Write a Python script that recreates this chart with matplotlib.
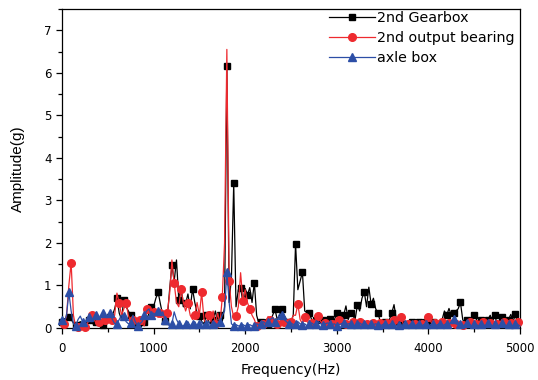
import numpy as np
import matplotlib
matplotlib.use("Agg")
import matplotlib.pyplot as plt
from matplotlib.ticker import MultipleLocator

plt.rcParams['font.family'] = ['DejaVu Sans']

# frequency grid (Hz)
freq = np.arange(0, 5001, 25)

gearbox = [
    0.15, 0.22, 0.18, 0.25, 0.2, 0.12, 0.08, 0.1, 0.15, 0.08, 0.05, 0.1, 0.2, 0.12, 0.08, 0.15, 0.1, 0.05, 0.08, 0.12,
    0.18, 0.25, 0.3, 0.45, 0.7, 0.35, 0.2, 0.67, 0.5, 0.4, 0.3, 0.15, 0.2, 0.12, 0.08, 0.1, 0.15, 0.2, 0.35, 0.5,
    0.5, 0.7, 0.84, 0.56, 0.3, 0.16, 0.25, 0.9, 1.48, 1.1, 1.6, 0.67, 0.95, 0.5, 0.58, 0.8, 0.45, 0.92, 0.6, 0.35,
    0.28, 0.15, 0.1, 0.3, 0.15, 0.1, 0.2, 0.4, 0.1, 0.3, 0.15, 0.5, 6.15, 0.6, 1.2, 3.4, 0.5, 0.9, 0.95, 0.6,
    0.93, 0.78, 0.95, 0.6, 1.07, 0.3, 0.1, 0.15, 0.05, 0.2, 0.1, 0.15, 0.3, 0.44, 0.2, 0.3, 0.44, 0.3, 0.2, 0.15,
    0.15, 0.3, 1.98, 0.9, 1.1, 1.31, 0.4, 0.36, 0.36, 0.2, 0.15, 0.2, 0.1, 0.25, 0.2, 0.15, 0.2, 0.22, 0.1, 0.2,
    0.35, 0.3, 0.25, 0.3, 0.52, 0.2, 0.35, 0.3, 0.2, 0.54, 0.4, 0.7, 0.85, 0.5, 0.96, 0.56, 0.7, 0.45, 0.35, 0.15,
    0.1, 0.15, 0.1, 0.2, 0.35, 0.55, 0.2, 0.15, 0.1, 0.12, 0.1, 0.12, 0.15, 0.15, 0.12, 0.1, 0.15, 0.12, 0.1, 0.15,
    0.1, 0.12, 0.15, 0.1, 0.12, 0.1, 0.2, 0.4, 0.3, 0.46, 0.3, 0.35, 0.4, 0.45, 0.6, 0.2, 0.1, 0.2, 0.15, 0.2,
    0.31, 0.2, 0.1, 0.2, 0.15, 0.1, 0.2, 0.3, 0.15, 0.3, 0.1, 0.15, 0.27, 0.15, 0.1, 0.2, 0.32, 0.15, 0.32, 0.1,
    0.1,
]

bearing = [
    0.05, 0.1, 0.3, 1.0, 1.54, 0.3, 0.02, 0.02, 0.1, 0.05, 0.02, 0.1, 0.2, 0.31, 0.2, 0.1, 0.15, 0.1, 0.15, 0.19,
    0.25, 0.15, 0.2, 0.3, 0.82, 0.58, 0.3, 0.45, 0.58, 0.3, 0.15, 0.2, 0.1, 0.15, 0.2, 0.1, 0.05, 0.44, 0.4, 0.3,
    0.38, 0.3, 0.25, 0.35, 0.3, 0.15, 0.36, 0.8, 1.6, 1.05, 0.6, 0.5, 0.91, 0.6, 0.4, 0.58, 0.3, 0.2, 0.3, 0.6,
    0.3, 0.84, 0.2, 0.1, 0.3, 0.15, 0.4, 0.1, 0.35, 0.1, 0.72, 2.0, 6.55, 1.11, 0.5, 0.25, 0.29, 0.5, 1.3, 0.63,
    0.9, 0.6, 0.44, 0.3, 0.2, 0.05, 0.1, 0.05, 0.1, 0.15, 0.27, 0.2, 0.1, 0.15, 0.1, 0.15, 0.2, 0.15, 0.1, 0.2,
    0.15, 0.3, 0.3, 0.56, 0.2, 0.1, 0.25, 0.15, 0.1, 0.12, 0.1, 0.2, 0.28, 0.15, 0.1, 0.12, 0.1, 0.15, 0.1, 0.12,
    0.15, 0.19, 0.1, 0.05, 0.1, 0.12, 0.1, 0.15, 0.12, 0.08, 0.15, 0.1, 0.05, 0.1, 0.15, 0.1, 0.12, 0.08, 0.1, 0.12,
    0.1, 0.08, 0.12, 0.1, 0.15, 0.2, 0.15, 0.25, 0.25, 0.1, 0.08, 0.1, 0.12, 0.08, 0.1, 0.12, 0.08, 0.1, 0.12, 0.15,
    0.27, 0.15, 0.1, 0.12, 0.1, 0.08, 0.15, 0.1, 0.08, 0.12, 0.1, 0.08, 0.1, 0.12, 0.1, 0.08, 0.1, 0.12, 0.15, 0.1,
    0.08, 0.1, 0.12, 0.1, 0.15, 0.1, 0.08, 0.12, 0.1, 0.08, 0.1, 0.12, 0.1, 0.15, 0.1, 0.08, 0.12, 0.1, 0.08, 0.15,
    0.12,
]

axle = [
    0.2, 0.15, 0.3, 0.84, 0.4, 0.1, 0.05, 0.2, 0.28, 0.15, 0.1, 0.2, 0.25, 0.15, 0.2, 0.3, 0.2, 0.25, 0.35, 0.3,
    0.25, 0.35, 0.2, 0.1, 0.1, 0.2, 0.3, 0.28, 0.15, 0.1, 0.12, 0.3, 0.15, 0.05, 0.1, 0.15, 0.3, 0.4, 0.45, 0.3,
    0.35, 0.3, 0.4, 0.3, 0.38, 0.2, 0.1, 0.05, 0.1, 0.38, 0.2, 0.1, 0.05, 0.05, 0.1, 0.15, 0.05, 0.1, 0.15, 0.05,
    0.1, 0.15, 0.05, 0.1, 0.15, 0.05, 0.1, 0.12, 0.05, 0.15, 0.3, 0.4, 1.32, 0.6, 0.1, 0.05, 0.08, 0.05, 0.05, 0.08,
    0.05, 0.05, 0.08, 0.05, 0.05, 0.1, 0.08, 0.1, 0.15, 0.1, 0.15, 0.2, 0.25, 0.15, 0.2, 0.33, 0.3, 0.2, 0.15, 0.1,
    0.12, 0.08, 0.1, 0.15, 0.1, 0.08, 0.1, 0.05, 0.1, 0.12, 0.08, 0.1, 0.15, 0.1, 0.08, 0.1, 0.12, 0.1, 0.08, 0.1,
    0.05, 0.08, 0.1, 0.12, 0.08, 0.1, 0.1, 0.08, 0.05, 0.1, 0.12, 0.08, 0.1, 0.08, 0.05, 0.1, 0.08, 0.1, 0.08, 0.05,
    0.08, 0.1, 0.05, 0.08, 0.1, 0.08, 0.05, 0.08, 0.05, 0.08, 0.1, 0.05, 0.08, 0.1, 0.05, 0.08, 0.1, 0.05, 0.08, 0.1,
    0.05, 0.08, 0.1, 0.05, 0.08, 0.1, 0.05, 0.08, 0.1, 0.08, 0.15, 0.22, 0.1, 0.08, 0.1, 0.05, 0.08, 0.12, 0.08, 0.05,
    0.1, 0.08, 0.05, 0.1, 0.08, 0.05, 0.12, 0.08, 0.05, 0.1, 0.08, 0.05, 0.12, 0.08, 0.05, 0.1, 0.08, 0.05, 0.1, 0.08,
    0.05,
]

labels = ["2nd Gearbox", "2nd output bearing", "axle box"]

fig = plt.figure(figsize=(5.38, 3.80), dpi=100)
ax = fig.add_axes([0.1152, 0.1368, 0.8513, 0.8395])

ax.plot(freq, gearbox, color='black', lw=0.9, marker='s', ms=5, markevery=(0, 3),
        label=labels[0], clip_on=False, zorder=3)
ax.plot(freq, bearing, color='#ee2a2f', lw=0.9, marker='o', ms=5.5, markevery=(1, 3),
        label=labels[1], clip_on=False, zorder=4)
ax.plot(freq, axle, color='#2c4ea6', lw=0.9, marker='^', ms=5.5, markevery=(0, 3),
        label=labels[2], clip_on=False, zorder=5)

ax.set_xlim(0, 5000)
ax.set_ylim(0, 7.5)
ax.xaxis.set_major_locator(MultipleLocator(1000))
ax.xaxis.set_minor_locator(MultipleLocator(500))
ax.yaxis.set_major_locator(MultipleLocator(1))
ax.yaxis.set_minor_locator(MultipleLocator(0.5))
ax.tick_params(which='both', direction='out', top=False, right=False, labelsize=8.5, width=0.9)
ax.tick_params(axis='x', which='major', pad=6)
ax.tick_params(which='major', length=4)
ax.tick_params(which='minor', length=3)
for s in ax.spines.values():
    s.set_linewidth(0.9)

ax.set_xlabel("Frequency(Hz)", fontsize=10, labelpad=6)
ax.set_ylabel("Amplitude(g)", labelpad=14, family='Liberation Sans', fontsize=11)

leg = ax.legend(loc='upper right', frameon=False, fontsize=10.3, handlelength=3.2,
                handletextpad=0.15, labelspacing=0.42, borderaxespad=0.0,
                bbox_to_anchor=(1.0, 1.012))

fig.savefig("out.png", dpi=100)
